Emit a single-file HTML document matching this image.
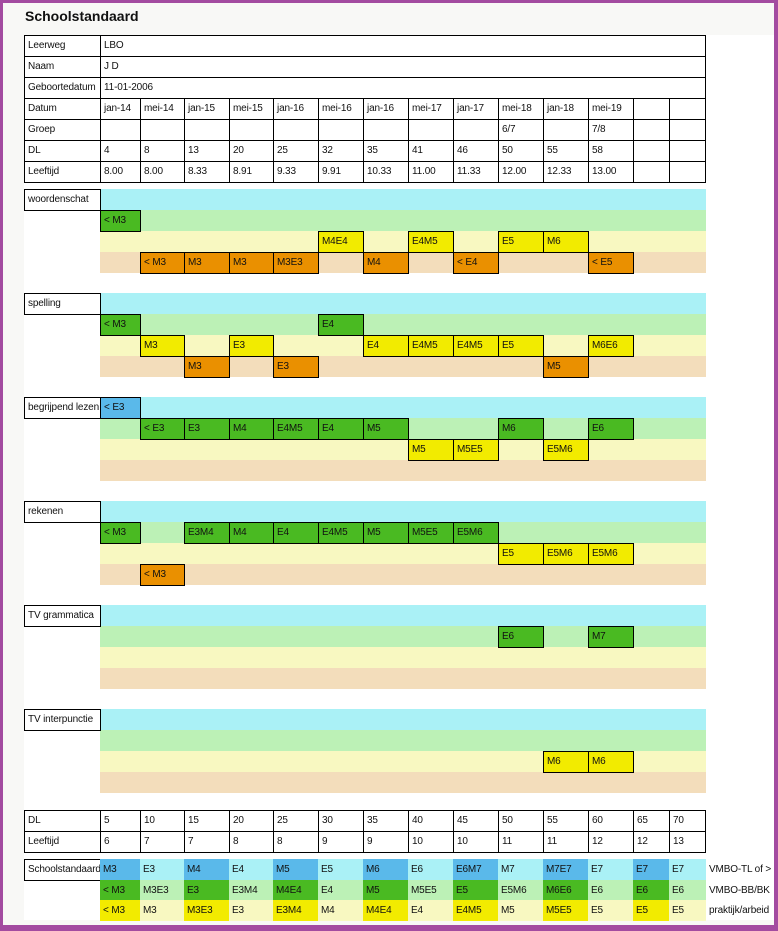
<!DOCTYPE html>
<html><head><meta charset="utf-8"><style>
*{margin:0;padding:0;box-sizing:border-box}
body{width:778px;height:931px;background:#a34ba0;position:relative;overflow:hidden;font-family:"Liberation Sans",Arial,sans-serif;font-size:10px;letter-spacing:-0.15px;color:#111}
#in{position:absolute;left:3px;top:3px;width:771px;height:922px;background:#f8f8f6}
#pan{position:absolute;left:24px;top:35px;width:750px;height:885px;background:#fff}
#t{position:absolute;left:25px;top:8px;font-size:14px;font-weight:bold;color:#111;letter-spacing:0}
.a{position:absolute;height:22px;border:1px solid #000;line-height:20px;padding-left:3px;white-space:nowrap;overflow:hidden}
.b{position:absolute;height:21px;left:100px;width:606px}
.p{position:absolute;height:21px;line-height:21px;padding-left:3px;white-space:nowrap}
.c0{left:100px;width:41px}.c1{left:140px;width:45px}.c2{left:184px;width:46px}.c3{left:229px;width:45px}.c4{left:273px;width:46px}.c5{left:318px;width:46px}.c6{left:363px;width:46px}.c7{left:408px;width:46px}.c8{left:453px;width:46px}.c9{left:498px;width:46px}.c10{left:543px;width:46px}.c11{left:588px;width:46px}.c12{left:633px;width:37px}.c13{left:669px;width:37px}
.p.c0{width:40px}.p.c1{width:44px}.p.c2,.p.c3,.p.c4,.p.c5,.p.c6,.p.c7,.p.c8,.p.c9,.p.c10,.p.c11{width:45px}.p.c3{width:44px}.p.c12{width:36px}.p.c13{width:37px}
.L{left:24px;width:77px}
.cy{background:#aaf1f6}.gr{background:#bcf1b6}.ye{background:#f8f8c1}.ta{background:#f3ddbb}
.G{background:#4aba22}.Y{background:#f2eb00}.O{background:#ea9000}.B{background:#5ab9ea}
</style></head><body>
<div id="in"></div><div id="pan"></div>
<div id="t">Schoolstandaard</div>

<div class="a L" style="top:35px">Leerweg</div><div class="a" style="top:35px;left:100px;width:606px">LBO</div>
<div class="a L" style="top:56px">Naam</div><div class="a" style="top:56px;left:100px;width:606px">J D</div>
<div class="a L" style="top:77px">Geboortedatum</div><div class="a" style="top:77px;left:100px;width:606px">11-01-2006</div>

<div class="a L" style="top:98px">Datum</div>
<div class="a c0" style="top:98px">jan-14</div><div class="a c1" style="top:98px">mei-14</div><div class="a c2" style="top:98px">jan-15</div><div class="a c3" style="top:98px">mei-15</div><div class="a c4" style="top:98px">jan-16</div><div class="a c5" style="top:98px">mei-16</div><div class="a c6" style="top:98px">jan-16</div><div class="a c7" style="top:98px">mei-17</div><div class="a c8" style="top:98px">jan-17</div><div class="a c9" style="top:98px">mei-18</div><div class="a c10" style="top:98px">jan-18</div><div class="a c11" style="top:98px">mei-19</div><div class="a c12" style="top:98px"></div><div class="a c13" style="top:98px"></div>

<div class="a L" style="top:119px">Groep</div>
<div class="a c0" style="top:119px"></div><div class="a c1" style="top:119px"></div><div class="a c2" style="top:119px"></div><div class="a c3" style="top:119px"></div><div class="a c4" style="top:119px"></div><div class="a c5" style="top:119px"></div><div class="a c6" style="top:119px"></div><div class="a c7" style="top:119px"></div><div class="a c8" style="top:119px"></div><div class="a c9" style="top:119px">6/7</div><div class="a c10" style="top:119px"></div><div class="a c11" style="top:119px">7/8</div><div class="a c12" style="top:119px"></div><div class="a c13" style="top:119px"></div>

<div class="a L" style="top:140px">DL</div>
<div class="a c0" style="top:140px">4</div><div class="a c1" style="top:140px">8</div><div class="a c2" style="top:140px">13</div><div class="a c3" style="top:140px">20</div><div class="a c4" style="top:140px">25</div><div class="a c5" style="top:140px">32</div><div class="a c6" style="top:140px">35</div><div class="a c7" style="top:140px">41</div><div class="a c8" style="top:140px">46</div><div class="a c9" style="top:140px">50</div><div class="a c10" style="top:140px">55</div><div class="a c11" style="top:140px">58</div><div class="a c12" style="top:140px"></div><div class="a c13" style="top:140px"></div>

<div class="a L" style="top:161px">Leeftijd</div>
<div class="a c0" style="top:161px">8.00</div><div class="a c1" style="top:161px">8.00</div><div class="a c2" style="top:161px">8.33</div><div class="a c3" style="top:161px">8.91</div><div class="a c4" style="top:161px">9.33</div><div class="a c5" style="top:161px">9.91</div><div class="a c6" style="top:161px">10.33</div><div class="a c7" style="top:161px">11.00</div><div class="a c8" style="top:161px">11.33</div><div class="a c9" style="top:161px">12.00</div><div class="a c10" style="top:161px">12.33</div><div class="a c11" style="top:161px">13.00</div><div class="a c12" style="top:161px"></div><div class="a c13" style="top:161px"></div>

<div class="b cy" style="top:189px"></div><div class="b gr" style="top:210px"></div><div class="b ye" style="top:231px"></div><div class="b ta" style="top:252px"></div>
<div class="a L" style="top:189px;background:#fff">woordenschat</div>
<div class="a c0 G" style="top:210px">&lt; M3</div>
<div class="a c5 Y" style="top:231px">M4E4</div><div class="a c7 Y" style="top:231px">E4M5</div><div class="a c9 Y" style="top:231px">E5</div><div class="a c10 Y" style="top:231px">M6</div>
<div class="a c1 O" style="top:252px">&lt; M3</div><div class="a c2 O" style="top:252px">M3</div><div class="a c3 O" style="top:252px">M3</div><div class="a c4 O" style="top:252px">M3E3</div><div class="a c6 O" style="top:252px">M4</div><div class="a c8 O" style="top:252px">&lt; E4</div><div class="a c11 O" style="top:252px">&lt; E5</div>

<div class="b cy" style="top:293px"></div><div class="b gr" style="top:314px"></div><div class="b ye" style="top:335px"></div><div class="b ta" style="top:356px"></div>
<div class="a L" style="top:293px;background:#fff">spelling</div>
<div class="a c0 G" style="top:314px">&lt; M3</div><div class="a c5 G" style="top:314px">E4</div>
<div class="a c1 Y" style="top:335px">M3</div><div class="a c3 Y" style="top:335px">E3</div><div class="a c6 Y" style="top:335px">E4</div><div class="a c7 Y" style="top:335px">E4M5</div><div class="a c8 Y" style="top:335px">E4M5</div><div class="a c9 Y" style="top:335px">E5</div><div class="a c11 Y" style="top:335px">M6E6</div>
<div class="a c2 O" style="top:356px">M3</div><div class="a c4 O" style="top:356px">E3</div><div class="a c10 O" style="top:356px">M5</div>

<div class="b cy" style="top:397px"></div><div class="b gr" style="top:418px"></div><div class="b ye" style="top:439px"></div><div class="b ta" style="top:460px"></div>
<div class="a L" style="top:397px;background:#fff">begrijpend lezen</div>
<div class="a c0 B" style="top:397px">&lt; E3</div>
<div class="a c1 G" style="top:418px">&lt; E3</div><div class="a c2 G" style="top:418px">E3</div><div class="a c3 G" style="top:418px">M4</div><div class="a c4 G" style="top:418px">E4M5</div><div class="a c5 G" style="top:418px">E4</div><div class="a c6 G" style="top:418px">M5</div><div class="a c9 G" style="top:418px">M6</div><div class="a c11 G" style="top:418px">E6</div>
<div class="a c7 Y" style="top:439px">M5</div><div class="a c8 Y" style="top:439px">M5E5</div><div class="a c10 Y" style="top:439px">E5M6</div>

<div class="b cy" style="top:501px"></div><div class="b gr" style="top:522px"></div><div class="b ye" style="top:543px"></div><div class="b ta" style="top:564px"></div>
<div class="a L" style="top:501px;background:#fff">rekenen</div>
<div class="a c0 G" style="top:522px">&lt; M3</div><div class="a c2 G" style="top:522px">E3M4</div><div class="a c3 G" style="top:522px">M4</div><div class="a c4 G" style="top:522px">E4</div><div class="a c5 G" style="top:522px">E4M5</div><div class="a c6 G" style="top:522px">M5</div><div class="a c7 G" style="top:522px">M5E5</div><div class="a c8 G" style="top:522px">E5M6</div>
<div class="a c9 Y" style="top:543px">E5</div><div class="a c10 Y" style="top:543px">E5M6</div><div class="a c11 Y" style="top:543px">E5M6</div>
<div class="a c1 O" style="top:564px">&lt; M3</div>

<div class="b cy" style="top:605px"></div><div class="b gr" style="top:626px"></div><div class="b ye" style="top:647px"></div><div class="b ta" style="top:668px"></div>
<div class="a L" style="top:605px;background:#fff">TV grammatica</div>
<div class="a c9 G" style="top:626px">E6</div><div class="a c11 G" style="top:626px">M7</div>

<div class="b cy" style="top:709px"></div><div class="b gr" style="top:730px"></div><div class="b ye" style="top:751px"></div><div class="b ta" style="top:772px"></div>
<div class="a L" style="top:709px;background:#fff">TV interpunctie</div>
<div class="a c10 Y" style="top:751px">M6</div><div class="a c11 Y" style="top:751px">M6</div>

<div class="a L" style="top:810px">DL</div>
<div class="a c0" style="top:810px">5</div><div class="a c1" style="top:810px">10</div><div class="a c2" style="top:810px">15</div><div class="a c3" style="top:810px">20</div><div class="a c4" style="top:810px">25</div><div class="a c5" style="top:810px">30</div><div class="a c6" style="top:810px">35</div><div class="a c7" style="top:810px">40</div><div class="a c8" style="top:810px">45</div><div class="a c9" style="top:810px">50</div><div class="a c10" style="top:810px">55</div><div class="a c11" style="top:810px">60</div><div class="a c12" style="top:810px">65</div><div class="a c13" style="top:810px">70</div>
<div class="a L" style="top:831px">Leeftijd</div>
<div class="a c0" style="top:831px">6</div><div class="a c1" style="top:831px">7</div><div class="a c2" style="top:831px">7</div><div class="a c3" style="top:831px">8</div><div class="a c4" style="top:831px">8</div><div class="a c5" style="top:831px">9</div><div class="a c6" style="top:831px">9</div><div class="a c7" style="top:831px">10</div><div class="a c8" style="top:831px">10</div><div class="a c9" style="top:831px">11</div><div class="a c10" style="top:831px">11</div><div class="a c11" style="top:831px">12</div><div class="a c12" style="top:831px">12</div><div class="a c13" style="top:831px">13</div>

<div class="a L" style="top:859px">Schoolstandaard</div>
<div class="p c0 B" style="top:859px">M3</div><div class="p c1 cy" style="top:859px">E3</div><div class="p c2 B" style="top:859px">M4</div><div class="p c3 cy" style="top:859px">E4</div><div class="p c4 B" style="top:859px">M5</div><div class="p c5 cy" style="top:859px">E5</div><div class="p c6 B" style="top:859px">M6</div><div class="p c7 cy" style="top:859px">E6</div><div class="p c8 B" style="top:859px">E6M7</div><div class="p c9 cy" style="top:859px">M7</div><div class="p c10 B" style="top:859px">M7E7</div><div class="p c11 cy" style="top:859px">E7</div><div class="p c12 B" style="top:859px">E7</div><div class="p c13 cy" style="top:859px">E7</div>
<div class="p" style="top:859px;left:706px">VMBO-TL of &gt;</div>
<div class="p c0 G" style="top:880px">&lt; M3</div><div class="p c1 gr" style="top:880px">M3E3</div><div class="p c2 G" style="top:880px">E3</div><div class="p c3 gr" style="top:880px">E3M4</div><div class="p c4 G" style="top:880px">M4E4</div><div class="p c5 gr" style="top:880px">E4</div><div class="p c6 G" style="top:880px">M5</div><div class="p c7 gr" style="top:880px">M5E5</div><div class="p c8 G" style="top:880px">E5</div><div class="p c9 gr" style="top:880px">E5M6</div><div class="p c10 G" style="top:880px">M6E6</div><div class="p c11 gr" style="top:880px">E6</div><div class="p c12 G" style="top:880px">E6</div><div class="p c13 gr" style="top:880px">E6</div>
<div class="p" style="top:880px;left:706px">VMBO-BB/BK</div>
<div class="p c0 Y" style="top:900px">&lt; M3</div><div class="p c1 ye" style="top:900px">M3</div><div class="p c2 Y" style="top:900px">M3E3</div><div class="p c3 ye" style="top:900px">E3</div><div class="p c4 Y" style="top:900px">E3M4</div><div class="p c5 ye" style="top:900px">M4</div><div class="p c6 Y" style="top:900px">M4E4</div><div class="p c7 ye" style="top:900px">E4</div><div class="p c8 Y" style="top:900px">E4M5</div><div class="p c9 ye" style="top:900px">M5</div><div class="p c10 Y" style="top:900px">M5E5</div><div class="p c11 ye" style="top:900px">E5</div><div class="p c12 Y" style="top:900px">E5</div><div class="p c13 ye" style="top:900px">E5</div>
<div class="p" style="top:900px;left:706px">praktijk/arbeid</div>
</body></html>
